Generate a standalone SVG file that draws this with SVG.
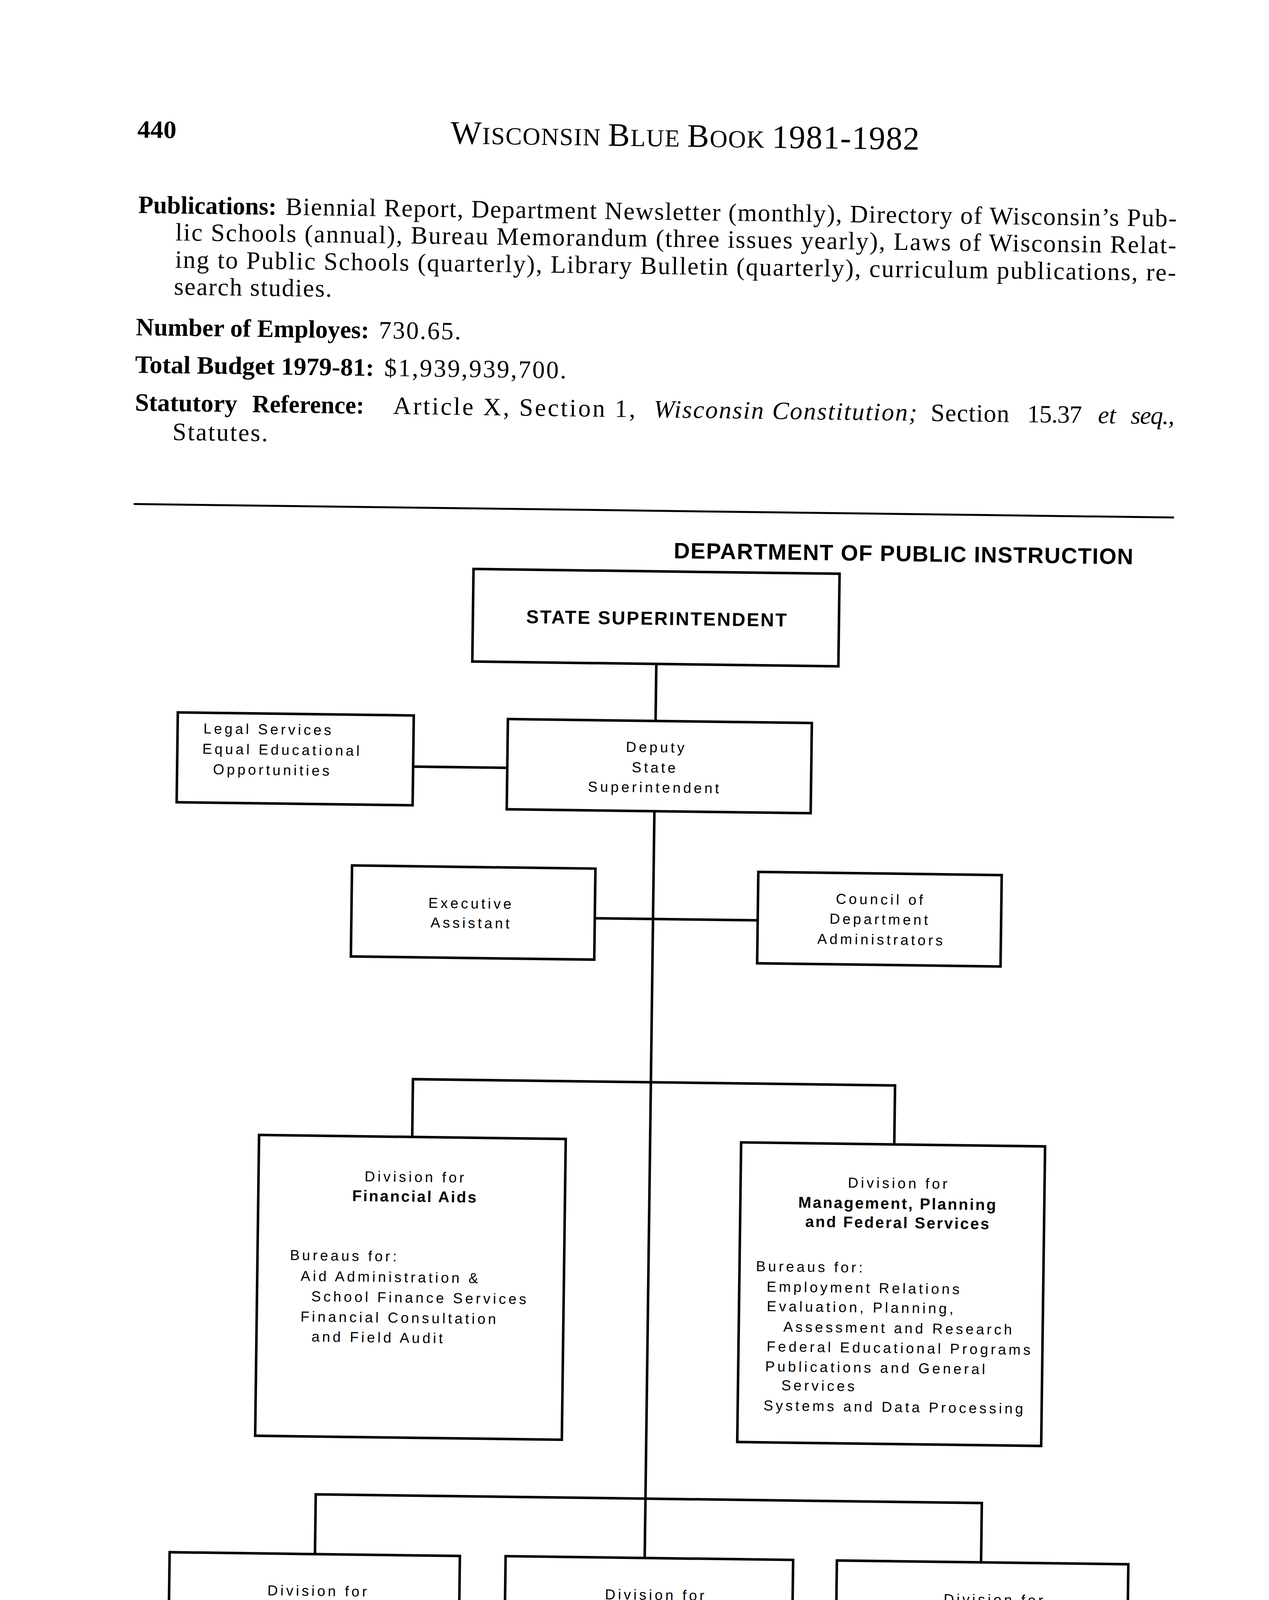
<svg xmlns="http://www.w3.org/2000/svg" width="3248" height="5220" viewBox="0 0 3248 5220">
<style>
.bx{fill:#fff;stroke:#000;stroke-width:6.5;stroke-linejoin:miter}
.ln{fill:none;stroke:#000;stroke-width:6.5;stroke-linecap:square;stroke-linejoin:miter}
.t{font-family:"Liberation Sans",Arial,sans-serif;font-size:37px;letter-spacing:6.5px;fill:#000}
.b{font-weight:bold;font-size:40px;letter-spacing:3.7px}
.c{text-anchor:middle}
.s{font-family:"Liberation Serif","Times New Roman",serif;font-size:64px;fill:#000}
.sb{font-weight:bold}
.i{font-style:italic}
.h{font-family:"Liberation Sans",Arial,sans-serif;font-weight:bold;fill:#000}
</style>
<rect width="3248" height="5220" fill="#fff"/>
<g transform="rotate(0.745 1624 2610)">
<g id="header">
<text class="s sb" x="322" y="369" font-size="68" textLength="100" lengthAdjust="spacingAndGlyphs">440</text>
<text class="s" x="1124" y="374" textLength="1200" lengthAdjust="spacing"><tspan font-size="84">W</tspan><tspan font-size="63">ISCONSIN </tspan><tspan font-size="84">B</tspan><tspan font-size="63">LUE </tspan><tspan font-size="84">B</tspan><tspan font-size="63">OOK </tspan><tspan font-size="84">1981-1982</tspan></text>
<text class="s sb" x="327" y="562" textLength="354" lengthAdjust="spacingAndGlyphs">Publications:</text>
<text class="s" x="704" y="562" textLength="2281" lengthAdjust="spacing">Biennial Report, Department Newsletter (monthly), Directory of Wisconsin’s Pub-</text>
<text class="s" x="423" y="631" textLength="2562" lengthAdjust="spacing">lic Schools (annual), Bureau Memorandum (three issues yearly), Laws of Wisconsin Relat-</text>
<text class="s" x="423" y="701" textLength="2562" lengthAdjust="spacing">ing to Public Schools (quarterly), Library Bulletin (quarterly), curriculum publications, re-</text>
<text class="s" x="421" y="770" textLength="404" lengthAdjust="spacing">search studies.</text>
<text class="s sb" x="325" y="875" textLength="597" lengthAdjust="spacingAndGlyphs">Number of Employes:</text>
<text class="s" x="947" y="875" textLength="210" lengthAdjust="spacing">730.65.</text>
<text class="s sb" x="324" y="971" textLength="612" lengthAdjust="spacingAndGlyphs">Total Budget 1979-81:</text>
<text class="s" x="962" y="971" textLength="466" lengthAdjust="spacing">$1,939,939,700.</text>
<text class="s sb" x="325" y="1068" textLength="262" lengthAdjust="spacingAndGlyphs">Statutory</text>
<text class="s sb" x="625" y="1068" textLength="287" lengthAdjust="spacingAndGlyphs">Reference:</text>
<text class="s" x="986" y="1068" textLength="620" lengthAdjust="spacing">Article X, Section 1,</text>
<text class="s i" x="1653" y="1068" textLength="674" lengthAdjust="spacing">Wisconsin Constitution;</text>
<text class="s" x="2362" y="1068" textLength="201" lengthAdjust="spacing">Section</text>
<text class="s" x="2609" y="1068" textLength="140" lengthAdjust="spacing">15.37</text>
<text class="s i" x="2790" y="1068" textLength="46" lengthAdjust="spacing">et</text>
<text class="s i" x="2874" y="1068" textLength="112" lengthAdjust="spacing">seq.,</text>
<text class="s" x="422" y="1142" textLength="244" lengthAdjust="spacing">Statutes.</text>
<line x1="325" y1="1307" x2="2988" y2="1307" stroke="#000" stroke-width="5"/>
<text class="h" x="1709" y="1428" font-size="57" textLength="1176" lengthAdjust="spacing">DEPARTMENT OF PUBLIC INSTRUCTION</text>
<text class="h" x="448" y="4788" font-size="52" textLength="650" lengthAdjust="spacing">PUBLIC INSTRUCTION</text>
</g>
<g id="connectors">
<path class="ln" d="M1668,1699 V1845"/>
<path class="ln" d="M1049,1970 H1290"/>
<path class="ln" d="M1668,2076 V3988"/>
<path class="ln" d="M1519,2352 H1936"/>
<path class="ln" d="M1059,2918 V2770 H2293 V2921"/>
<path class="ln" d="M824,3989 V3836 H2529 V3988"/>
</g>
<g id="state-superintendent">
<rect class="bx" x="1197" y="1462" width="937" height="237"/>
<text class="h c" x="1667" y="1599" font-size="48" textLength="667" lengthAdjust="spacing">STATE SUPERINTENDENT</text>
</g>
<g id="legal-services">
<rect class="bx" x="445" y="1839" width="604" height="230"/>
<text class="t" x="511" y="1892" letter-spacing="5.2">Legal Services</text>
<text class="t" x="509" y="1944">Equal Educational</text>
<text class="t" x="537" y="1996">Opportunities</text>
</g>
<g id="deputy">
<rect class="bx" x="1290" y="1845" width="778" height="231"/>
<text class="t c" x="1671" y="1925">Deputy</text>
<text class="t c" x="1668" y="1977">State</text>
<text class="t c" x="1668" y="2028">Superintendent</text>
</g>
<g id="executive-assistant">
<rect class="bx" x="896" y="2225" width="623" height="233"/>
<text class="t c" x="1202" y="2331">Executive</text>
<text class="t c" x="1203" y="2381">Assistant</text>
</g>
<g id="council">
<rect class="bx" x="1936" y="2228" width="623" height="234"/>
<text class="t c" x="2250" y="2307">Council of</text>
<text class="t c" x="2249" y="2358">Department</text>
<text class="t c" x="2253" y="2410">Administrators</text>
</g>
<g id="financial-aids">
<rect class="bx" x="667" y="2918" width="785" height="770"/>
<text class="t c" x="1069" y="3033">Division for</text>
<text class="t b c" x="1068" y="3084">Financial Aids</text>
<text class="t" x="750" y="3237">Bureaus for:</text>
<text class="t" x="778" y="3290">Aid Administration &amp;</text>
<text class="t" x="806" y="3342">School Finance Services</text>
<text class="t" x="779" y="3394">Financial Consultation</text>
<text class="t" x="808" y="3445">and Field Audit</text>
</g>
<g id="management">
<rect class="bx" x="1901" y="2921" width="778" height="767"/>
<text class="t c" x="2306" y="3033">Division for</text>
<text class="t b c" x="2304" y="3086">Management, Planning</text>
<text class="t b c" x="2305" y="3135">and Federal Services</text>
<text class="t" x="1943" y="3250">Bureaus for:</text>
<text class="t" x="1971" y="3302">Employment Relations</text>
<text class="t" x="1972" y="3352">Evaluation, Planning,</text>
<text class="t" x="2015" y="3404">Assessment and Research</text>
<text class="t" x="1973" y="3455">Federal Educational Programs</text>
<text class="t" x="1970" y="3506">Publications and General</text>
<text class="t" x="2012" y="3554">Services</text>
<text class="t" x="1967" y="3606">Systems and Data Processing</text>
</g>
<g id="handicapped-children">
<rect class="bx" x="452" y="3989" width="743" height="726"/>
<text class="t c" x="834" y="4096">Division for</text>
<text class="t b c" x="835" y="4150">Handicapped Children</text>
<text class="t" x="513" y="4252">Bureaus for:</text>
<text class="t" x="534" y="4305">Children with Physical</text>
<text class="t" x="577" y="4355">Needs</text>
<text class="t" x="531" y="4409">Exceptional Children</text>
<text class="t" x="507" y="4460">Schools:</text>
<text class="t" x="530" y="4511">Wisconsin School for</text>
<text class="t" x="570" y="4562">the Deaf</text>
<text class="t" x="531" y="4615">Wisconsin School for the</text>
<text class="t" x="564" y="4665">Visually Handicapped</text>
</g>
<g id="instructional-services">
<rect class="bx" x="1312" y="3988" width="736" height="727"/>
<text class="t c" x="1698" y="4095">Division for</text>
<text class="t b c" x="1707" y="4148">Instructional Services</text>
<text class="t" x="1379" y="4254">Bureaus for:</text>
<text class="t" x="1405" y="4307">Program Development</text>
<text class="t" x="1406" y="4358">Pupil Services</text>
<text class="t" x="1403" y="4411">Special Educational</text>
<text class="t" x="1427" y="4462">Programming</text>
<text class="t" x="1408" y="4513">Teacher Education</text>
<text class="t" x="1428" y="4565">and Certification</text>
<text class="t" x="1409" y="4617">Vocational and</text>
<text class="t" x="1430" y="4668">Career Education</text>
</g>
<g id="library-services">
<rect class="bx" x="2160" y="3988" width="746" height="728"/>
<text class="t c" x="2565" y="4096">Division for</text>
<text class="t b c" x="2571" y="4148">Library Services</text>
<text class="t" x="2250" y="4254">Bureaus for:</text>
<text class="t" x="2277" y="4307">Public &amp; Cooperative</text>
<text class="t" x="2306" y="4357">Library Services</text>
<text class="t" x="2279" y="4410">Reference and Loan</text>
<text class="t" x="2304" y="4459">Services</text>
<text class="t" x="2275" y="4512">Instructional Media</text>
<text class="t" x="2305" y="4562">Programs</text>
</g>
</g>
</svg>
